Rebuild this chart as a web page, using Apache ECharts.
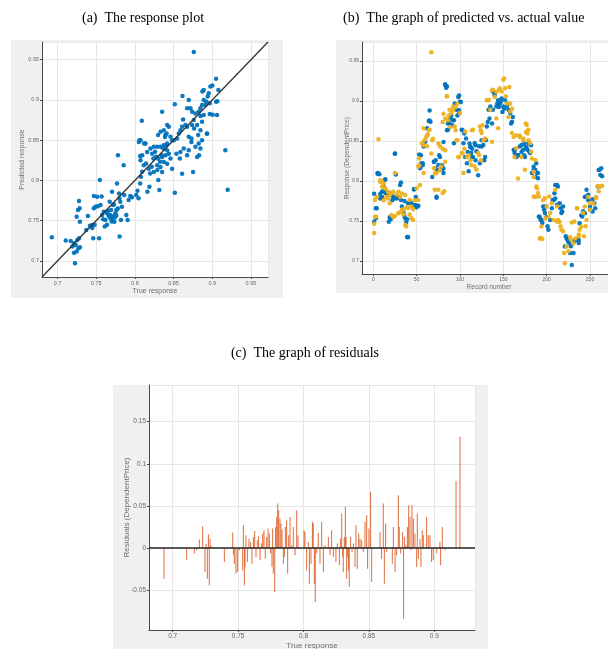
<!DOCTYPE html>
<html>
<head>
<meta charset="utf-8">
<script src="https://cdn.jsdelivr.net/npm/echarts@6/dist/echarts.min.js"></script>
<style>
html, body {margin: 0; padding: 0; background: #fff;}
#chart {width: 608px; height: 649px;}
</style>
</head>
<body>
<div id="chart"></div>
<script>
// (a) response plot: true response vs predicted response
const respTrue = [
  0.6927, 0.7107, 0.7171, 0.7214, 0.7192, 0.7235, 0.7256, 0.7278, 0.729, 0.7214, 0.7248, 0.7226, 0.727,
  0.7248, 0.7265, 0.7278, 0.7286, 0.729, 0.7372, 0.7419, 0.7449, 0.7393, 0.7462, 0.7538, 0.747, 0.7491,
  0.747, 0.7513, 0.7547, 0.7556, 0.7577, 0.759, 0.7598, 0.7611, 0.762, 0.7641, 0.7662, 0.7675, 0.7684,
  0.7692, 0.7705, 0.7718, 0.7726, 0.7735, 0.7748, 0.7761, 0.7769, 0.7782, 0.7795, 0.7803, 0.7812, 0.782,
  0.7833, 0.7855, 0.7863, 0.7889, 0.7906, 0.7919, 0.794, 0.7962, 0.8017, 0.8034, 0.8047, 0.8068, 0.8077,
  0.8094, 0.8068, 0.806, 0.812, 0.8145, 0.8162, 0.8188, 0.8197, 0.8218, 0.8239, 0.8261, 0.8274, 0.8291,
  0.8303, 0.8316, 0.8325, 0.8346, 0.8368, 0.8389, 0.8402, 0.841,
  0.768, 0.771, 0.774, 0.776, 0.770, 0.765, 0.778, 0.773, 0.780, 0.757, 0.752, 0.745, 0.748, 0.764,
  0.8761, 0.9049, 0.9001, 0.8976, 0.889, 0.8872, 0.8954, 0.8941, 0.8924, 0.8967, 0.9049, 0.9079, 0.8911,
  0.8868, 0.889, 0.8847, 0.8825, 0.8847, 0.889, 0.8967, 0.9061, 0.8615, 0.8696, 0.8718, 0.8675, 0.8516,
  0.8739, 0.8782, 0.8761, 0.8868, 0.8804, 0.8765, 0.8847, 0.8933, 0.8817, 0.8868, 0.8825, 0.8804, 0.8829,
  0.8847, 0.8731, 0.8696, 0.8623, 0.8653, 0.861, 0.8675, 0.8739, 0.8589, 0.8567, 0.8546, 0.8503, 0.8632,
  0.8589, 0.8675, 0.8731, 0.8752, 0.861, 0.9169, 0.9199, 0.8516, 0.8352, 0.809, 0.8417, 0.8438, 0.8374,
  0.8331, 0.830, 0.8395, 0.846, 0.8481, 0.8417, 0.8374, 0.8331, 0.8288, 0.8245, 0.8202, 0.8073, 0.8138,
  0.8052, 0.8159, 0.8223, 0.8417, 0.8438, 0.8395, 0.8352, 0.830, 0.846, 0.8374, 0.8417, 0.8288, 0.8331,
  0.8481, 0.8095, 0.8073, 0.8116, 0.818, 0.8245, 0.8352, 0.858, 0.8537, 0.8696, 0.8782, 0.9065, 0.9005, 0.893
];
const respPred = [
  0.7293, 0.7252, 0.7248, 0.7219, 0.7178, 0.7198, 0.726, 0.7281, 0.717, 0.710, 0.7116, 0.697, 0.7157,
  0.755, 0.7632, 0.7744, 0.7653, 0.7488, 0.7384, 0.7438, 0.7446, 0.7558, 0.7281, 0.7281, 0.7653, 0.7674,
  0.7806, 0.7798, 0.8004, 0.7694, 0.757, 0.7517, 0.7612, 0.7426, 0.7508, 0.7591, 0.7558, 0.7736, 0.7529,
  0.7632, 0.786, 0.7694, 0.7558, 0.7488, 0.7591, 0.7632, 0.7963, 0.8314, 0.7839, 0.7302, 0.7736, 0.7508,
  0.7674, 0.819, 0.7818, 0.757, 0.7508, 0.7756, 0.7806, 0.779, 0.7818, 0.7872, 0.7777, 0.7963, 0.8045,
  0.8107, 0.8302, 0.850, 0.8459, 0.8211, 0.786, 0.7921, 0.8087, 0.8169, 0.8273, 0.8355, 0.8293, 0.8128,
  0.8004, 0.788, 0.8231, 0.8314, 0.8397, 0.8541, 0.8438, 0.8583,
  0.757, 0.752, 0.754, 0.756, 0.749, 0.762, 0.765, 0.770, 0.778, 0.780, 0.768, 0.741, 0.745, 0.745,
  0.9596, 0.9263, 0.9179, 0.9167, 0.9125, 0.9104, 0.9083, 0.9042, 0.8979, 0.8958, 0.8979, 0.9125, 0.8938,
  0.8938, 0.900, 0.8896, 0.8854, 0.880, 0.8813, 0.8825, 0.8813, 0.905, 0.900, 0.8896, 0.8896, 0.8946,
  0.8854, 0.8833, 0.875, 0.8729, 0.8688, 0.8646, 0.8625, 0.8583, 0.8563, 0.850, 0.8458, 0.8292, 0.8313,
  0.8396, 0.8521, 0.8542, 0.8758, 0.8688, 0.8667, 0.8667, 0.8688, 0.8625, 0.8583, 0.8521, 0.850, 0.8396,
  0.8354, 0.8313, 0.8479, 0.8104, 0.8083, 0.8375, 0.7883, 0.7846, 0.8854, 0.8742, 0.8688, 0.8667, 0.8625,
  0.8604, 0.8563, 0.8563, 0.8542, 0.850, 0.8458, 0.8438, 0.8417, 0.8417, 0.8417, 0.8396, 0.850, 0.8458,
  0.8479, 0.8354, 0.8333, 0.8375, 0.8333, 0.8313, 0.8292, 0.8271, 0.8271, 0.8229, 0.8208, 0.8188, 0.8167,
  0.8146, 0.8313, 0.825, 0.8188, 0.8146, 0.8104, 0.8104, 0.8271, 0.8333, 0.8375, 0.8417, 0.8985, 0.8815, 0.858
];
const refLine = [0.68, 0.972];

// (b) predicted vs actual by record number
const actualRecord = [
  1, 1, 3, 5, 6, 8, 10, 12, 13, 14, 16, 18, 20, 22, 23, 25, 26, 27, 29, 31, 32, 33, 35, 37, 38, 39, 40, 42, 45, 47, 48, 49,
  52, 54, 55, 57, 58, 60, 62, 64, 65, 66, 68, 70, 72, 73, 75, 77, 79, 81, 83, 85, 86, 88, 90, 92, 93, 94, 96, 98, 99, 100,
  102, 104, 106, 108, 110, 112, 113, 115, 117, 119, 121, 123, 125, 127, 129, 131, 133, 135, 137, 138, 140, 142, 144, 146, 148, 150,
  152, 154, 156, 158, 160, 162, 163, 165, 167, 169, 171, 173, 175, 177, 179, 181, 183, 185, 187, 188, 190, 192, 194, 196, 198, 200,
  202, 204, 206, 208, 210, 212, 213, 215, 217, 219, 221, 223, 225, 227, 229, 231, 233, 235, 237, 238, 240, 242, 244, 246, 248, 250,
  253, 256, 259, 261, 263, 264,
  5, 7, 14, 12, 10, 8, 15, 18, 21, 23, 26, 25, 30, 32, 36, 40, 44, 47, 49, 50, 4, 3, 19, 20, 36, 39, 40,
  53, 55, 57, 65, 70, 72, 74, 73, 79, 81,
  83, 84, 99, 101, 99, 97, 93, 89, 86, 91, 85, 103, 105, 107, 81, 76, 111, 112, 114, 118, 122, 125, 130,
  132, 134, 138, 140, 143, 145, 147, 149, 151, 155, 159, 161, 163, 167, 171, 174, 109, 114, 118, 128,
  174, 176, 178, 180, 182, 185, 187, 189, 190, 191, 193, 195, 197, 199, 201, 207, 209, 210, 212, 216, 218,
  222, 224, 226, 228, 232, 235, 237, 241, 244, 246, 248, 250, 253, 255, 260, 262
];
const actualValue = [
  0.749, 0.784, 0.766, 0.81, 0.809, 0.778, 0.78, 0.788, 0.801, 0.785, 0.785, 0.749, 0.753, 0.776, 0.78, 0.834, 0.808, 0.778, 0.78, 0.795, 0.798, 0.768, 0.76, 0.753, 0.748, 0.73, 0.73, 0.774, 0.77, 0.79, 0.77, 0.78,
  0.769, 0.816, 0.832, 0.822, 0.843, 0.849, 0.866, 0.875, 0.888, 0.874, 0.805, 0.824, 0.826, 0.779, 0.82, 0.83, 0.814, 0.81, 0.92, 0.918, 0.864, 0.872, 0.882, 0.876, 0.847, 0.897, 0.889, 0.905, 0.885, 0.899,
  0.864, 0.847, 0.83, 0.822, 0.812, 0.843, 0.835, 0.83, 0.847, 0.837, 0.807, 0.822, 0.843, 0.845, 0.83, 0.868, 0.889, 0.893, 0.872, 0.912, 0.91, 0.893, 0.901, 0.897, 0.903, 0.893,
  0.901, 0.893, 0.889, 0.885, 0.874, 0.839, 0.835, 0.83, 0.832, 0.843, 0.845, 0.839, 0.83, 0.841, 0.847, 0.835, 0.81, 0.814, 0.805, 0.822, 0.81, 0.755, 0.751, 0.768, 0.76, 0.755,
  0.739, 0.751, 0.766, 0.776, 0.778, 0.795, 0.793, 0.772, 0.76, 0.768, 0.718, 0.728, 0.724, 0.71, 0.695, 0.71, 0.726, 0.727, 0.726, 0.747, 0.757, 0.762, 0.78, 0.789, 0.776, 0.764,
  0.777, 0.766, 0.793, 0.814, 0.816, 0.806,
  0.809, 0.8085, 0.802, 0.793, 0.7865, 0.7836, 0.7865, 0.7844, 0.7824, 0.7782, 0.7795, 0.8342, 0.7795, 0.7761, 0.7749, 0.772, 0.772, 0.7894, 0.7695, 0.767, 0.7658, 0.7533, 0.7545, 0.752, 0.7554, 0.752, 0.7297,
  0.833, 0.8218, 0.8197, 0.8757, 0.8239, 0.8156, 0.8135, 0.7803, 0.8197, 0.8156,
  0.9208, 0.9167, 0.907, 0.8988, 0.8883, 0.882, 0.8758, 0.878, 0.8717, 0.8696, 0.8633, 0.8633, 0.8592, 0.853, 0.8488, 0.832, 0.8467, 0.8425, 0.8404, 0.8446, 0.8433, 0.8508, 0.8508,
  0.8738, 0.878, 0.8892, 0.9071, 0.8967, 0.8925, 0.8988, 0.8863, 0.8904, 0.8967, 0.8717, 0.88, 0.8383, 0.8321, 0.8363, 0.8321, 0.8363, 0.83, 0.8258, 0.8258,
  0.8469, 0.8427, 0.8386, 0.8365, 0.8448, 0.8178, 0.8137, 0.8095, 0.8033, 0.7556, 0.7515, 0.7473, 0.7639, 0.768, 0.7432, 0.7763, 0.7846, 0.795, 0.7701, 0.766, 0.7618,
  0.7307, 0.7266, 0.7224, 0.7183, 0.7245, 0.7266, 0.7224, 0.7556, 0.7597, 0.7805, 0.7826, 0.768, 0.7618, 0.7722, 0.8137, 0.8075
];
const predRecord = [
  1, 2, 4, 6, 8, 10, 12, 13, 15, 17, 19, 21, 23, 25, 27, 29, 31, 33, 35, 37, 38, 40, 42, 44, 46, 48, 50,
  52, 53, 56, 58, 58, 61, 63, 65, 67, 68, 70, 71, 73, 75, 77, 78, 80, 82, 85, 86, 88, 90, 92, 94, 96, 98, 100,
  102, 104, 106, 108, 110, 112, 113, 115, 117, 119, 121, 123, 125, 127, 129, 131, 133, 135, 137, 138, 140, 142, 144, 146, 148, 151,
  152, 154, 156, 158, 160, 162, 163, 165, 167, 169, 171, 173, 175, 177, 179, 181, 183, 185, 187, 188, 190, 192, 194, 196, 198, 200,
  202, 204, 206, 208, 210, 212, 213, 215, 217, 219, 221, 223, 225, 227, 229, 231, 233, 235, 237, 238, 240, 242, 244, 246, 248, 250,
  254, 257, 260, 262, 264,
  8, 10, 12, 14, 17, 19, 23, 29, 33, 37, 42, 2, 1, 3, 21, 25, 29, 32, 35, 39, 44, 46,
  52, 54, 53, 58, 59, 62, 64, 62, 67, 69, 71, 75, 77, 83,
  85, 81, 83, 87, 92, 95, 97, 80, 89, 95, 80, 83, 97, 105, 114, 124, 126, 133, 137, 142, 145, 150, 153,
  157, 158, 160, 165, 169, 173, 176, 178, 99, 103, 122, 124,
  176, 177, 179, 182, 187, 185, 189, 185, 191, 198, 203, 193, 195, 212, 213, 216, 232, 235, 237, 243, 245,
  250, 257, 259, 262, 220, 228
];
const predValue = [
  0.735, 0.755, 0.78, 0.852, 0.799, 0.793, 0.776, 0.791, 0.78, 0.778, 0.772, 0.785, 0.755, 0.81, 0.783, 0.76, 0.78, 0.764, 0.758, 0.745, 0.743, 0.766, 0.758, 0.768, 0.751, 0.776, 0.791,
  0.818, 0.828, 0.847, 0.866, 0.81, 0.855, 0.858, 0.864, 0.961, 0.851, 0.816, 0.789, 0.81, 0.789, 0.843, 0.818, 0.785, 0.787, 0.906, 0.876, 0.889, 0.885, 0.893, 0.868, 0.851, 0.83, 0.885,
  0.835, 0.81, 0.862, 0.83, 0.832, 0.826, 0.82, 0.864, 0.818, 0.814, 0.835, 0.868, 0.86, 0.851, 0.853, 0.901, 0.901, 0.889, 0.849, 0.914, 0.905, 0.878, 0.866, 0.916, 0.912, 0.928,
  0.916, 0.897, 0.88, 0.887, 0.86, 0.855, 0.83, 0.841, 0.803, 0.857, 0.83, 0.853, 0.814, 0.87, 0.864, 0.847, 0.828, 0.805, 0.78, 0.793, 0.785, 0.728, 0.743, 0.776, 0.753, 0.768,
  0.755, 0.76, 0.772, 0.751, 0.789, 0.768, 0.751, 0.749, 0.739, 0.737, 0.697, 0.718, 0.712, 0.73, 0.748, 0.722, 0.728, 0.766, 0.733, 0.739, 0.743, 0.76, 0.768, 0.751, 0.78, 0.772,
  0.772, 0.78, 0.787, 0.793, 0.794,
  0.801, 0.799, 0.7969, 0.7907, 0.7865, 0.7824, 0.7865, 0.7865, 0.7844, 0.7824, 0.7761, 0.7761, 0.7463, 0.7554, 0.7575, 0.7562, 0.7595, 0.7616, 0.7645, 0.767, 0.7533, 0.7645,
  0.7761, 0.7948, 0.8197, 0.8446, 0.8508, 0.8571, 0.8633, 0.8434, 0.8342, 0.8529, 0.8093, 0.8467, 0.8135, 0.8239,
  0.9058, 0.8842, 0.878, 0.882, 0.8883, 0.8925, 0.8967, 0.8738, 0.8675, 0.8633, 0.8404, 0.8383, 0.8508, 0.8404, 0.8633, 0.8633, 0.8696, 0.9017, 0.9133, 0.9112, 0.9142, 0.9267, 0.9058,
  0.9175, 0.8967, 0.8904, 0.8571, 0.855, 0.8508, 0.8613, 0.8592, 0.83, 0.8342, 0.8321, 0.8258,
  0.8718, 0.8614, 0.851, 0.8365, 0.8261, 0.8116, 0.7909, 0.7805, 0.7805, 0.7784, 0.7805, 0.7286, 0.7274, 0.7494, 0.7494, 0.7432, 0.7494, 0.766, 0.7307, 0.7307, 0.7432,
  0.7639, 0.7784, 0.7938, 0.7938, 0.71, 0.7266
];

// (c) residuals vs true response
const residTrue = [
  0.6934, 0.7107, 0.7166, 0.7183, 0.7204, 0.7229, 0.7247, 0.7255, 0.7265, 0.7273, 0.728, 0.7285, 0.7293,
  0.7395, 0.7459, 0.7464, 0.7471, 0.7484, 0.7497, 0.751, 0.7527, 0.7535, 0.754, 0.7548, 0.7553, 0.756,
  0.7571, 0.7583, 0.7596, 0.7606, 0.7617, 0.7627, 0.7637, 0.7647, 0.7657, 0.7668, 0.7678, 0.7688, 0.7698,
  0.7708, 0.7718, 0.7729, 0.7739, 0.7749, 0.7759, 0.7764, 0.7769, 0.778, 0.7787, 0.7795, 0.7803, 0.781,
  0.782, 0.7828, 0.7836, 0.7846, 0.7854, 0.7861, 0.7871, 0.7879, 0.7887, 0.7897, 0.791, 0.7922, 0.7935,
  0.7948, 0.7958, 0.8004, 0.8011, 0.8024, 0.8037, 0.8045, 0.8057, 0.8068, 0.8075, 0.8083, 0.809, 0.8101,
  0.8113, 0.8126, 0.8139, 0.8152, 0.8164, 0.819, 0.8203, 0.8215, 0.8228, 0.8248, 0.8259, 0.8274, 0.8284,
  0.8292, 0.83, 0.8304, 0.8312, 0.832, 0.8325, 0.833, 0.8335, 0.8343, 0.835, 0.836, 0.8371, 0.8381,
  0.8394, 0.8401, 0.8411, 0.8422, 0.8432, 0.8445, 0.8457, 0.847, 0.8483, 0.849, 0.85, 0.8513, 0.8521,
  0.8585, 0.8597, 0.861, 0.8618, 0.8628, 0.8636, 0.8679, 0.8687, 0.87, 0.8712, 0.8725, 0.8732, 0.8743,
  0.8758, 0.8765, 0.8773, 0.8783, 0.8794, 0.8804, 0.8814, 0.8822, 0.8829, 0.884, 0.8852, 0.8865, 0.887,
  0.8878, 0.8891, 0.8898, 0.8908, 0.8916, 0.8941, 0.8954, 0.8967, 0.8979, 0.8992, 0.9018, 0.9043, 0.9048,
  0.9061, 0.9082, 0.9166, 0.9196
];
const residValue = [
  -0.0365, -0.0139, -0.0067, -0.003, 0.0099, 0.0258, -0.0286, 0.005, -0.0365, 0.0163, -0.0444, 0.011, 0.003,
  -0.0167, 0.0183, -0.008, -0.0187, -0.0306, -0.0286, -0.0028, 0.001, -0.0266, 0.027, -0.0444, -0.0226, 0.0151,
  -0.0167, 0.011, 0.0071, -0.0187, 0.0131, 0.0202, -0.0107, 0.0091, 0.0139, -0.0147, 0.0052, 0.0171, 0.021,
  -0.0127, 0.0131, 0.023, 0.0171, -0.0067, -0.0226, 0.023, -0.0306, -0.0524, 0.025, 0.0369, 0.0528, 0.0448,
  0.0349, 0.029, 0.0218, -0.0187, -0.0107, 0.025, 0.0329, -0.0306, 0.0151, 0.0369, 0.0032, 0.025, -0.0087,
  0.0448, 0.0151, 0.021, 0.019, -0.0266, 0.0071, -0.0425, -0.0187, 0.031, 0.029, -0.0425, -0.0643, -0.0067,
  0.0179, -0.0187, 0.031, -0.0286, 0.0032, 0.0131, -0.0087, 0.021, -0.0107, -0.0167, 0.0052, -0.0206, 0.011,
  0.0409, -0.0107, -0.0286, 0.0131, 0.0488, 0.0131, -0.0365, -0.0107, -0.0266, -0.0464, 0.0131, -0.0048, 0.0052,
  -0.0226, 0.027, -0.0246, 0.0171, 0.011, 0.0091, -0.0048, 0.031, 0.0389, -0.0246, 0.023, 0.0667, -0.0405,
  0.019, -0.0127, 0.0528, -0.0425, 0.029, -0.0048, -0.0187, 0.025, -0.0286, -0.0087, 0.0627, 0.025, -0.0067,
  0.019, -0.0841, 0.0131, 0.003, 0.025, 0.0508, 0.0369, -0.0028, 0.0508, 0.0349, 0.0171, -0.0226, 0.0409,
  -0.0127, 0.011, -0.0226, 0.021, 0.0151, 0.0369, 0.0151, 0.0151, -0.0167, -0.0147, -0.0067, 0.0071, -0.0206,
  0.025, -0.0028, 0.0794, 0.1321
];

const zip = (xs, ys) => xs.map((x, i) => [x, ys[i]]);

// only label ticks that fall on the step, hide the padded ends
const stepLabel = (step) => (v) => {
    const k = v / step;
    if (Math.abs(k - Math.round(k)) > 1e-6) return '';
    return String(+v.toFixed(3));
};

const axisBase = (gridIndex, min, max, step, fontSize, name, nameGap, isY) => ({
    type: 'value',
    gridIndex: gridIndex,
    min: min,
    max: max,
    splitNumber: 5,
    name: name,
    nameLocation: 'middle',
    nameGap: nameGap,
    nameMoveOverlap: false,
    nameRotate: isY ? 90 : 0,
    nameTextStyle: {fontSize: fontSize + 1.5, color: '#6e6e6e', fontFamily: 'Liberation Sans'},
    axisLine: {show: true, onZero: false, lineStyle: {color: '#4a4a4a', width: 1}},
    axisTick: {show: true, inside: false, length: 2, lineStyle: {color: '#4a4a4a'}},
    axisLabel: {
        fontSize: fontSize,
        color: '#666',
        margin: 3,
        fontFamily: 'Liberation Sans',
        showMinLabel: false,
        showMaxLabel: false,
        formatter: stepLabel(step)
    },
    splitLine: {show: true, lineStyle: {color: '#e6e6e6', width: 1}}
});

const myChart = echarts.init(document.getElementById('chart'), null, {renderer: 'canvas'});
myChart.setOption({
    animation: false,
    backgroundColor: '#ffffff',
    graphic: {
        elements: [
            {type: 'rect', z: -10, shape: {x: 11, y: 40, width: 272, height: 258}, style: {fill: '#f0f0f0'}},
            {type: 'rect', z: -10, shape: {x: 336, y: 40, width: 280, height: 253}, style: {fill: '#f0f0f0'}},
            {type: 'rect', z: -10, shape: {x: 113, y: 385, width: 375, height: 270}, style: {fill: '#f0f0f0'}},
            {type: 'text', z: 10, x: 143, y: 18, style: {text: '(a)  The response plot', font: '14px "Liberation Serif"', fill: '#000', textAlign: 'center', textVerticalAlign: 'middle'}},
            {type: 'text', z: 10, x: 343, y: 18, style: {text: '(b)  The graph of predicted vs. actual value', font: '14px "Liberation Serif"', fill: '#000', textAlign: 'left', textVerticalAlign: 'middle'}},
            {type: 'text', z: 10, x: 305, y: 353, style: {text: '(c)  The graph of residuals', font: '14px "Liberation Serif"', fill: '#000', textAlign: 'center', textVerticalAlign: 'middle'}}
        ]
    },
    grid: [
        {left: 42, top: 42, width: 226, height: 235, show: true, backgroundColor: '#fff', borderWidth: 0, outerBoundsMode: 'none', containLabel: false},
        {left: 362, top: 42, width: 254, height: 232, show: true, backgroundColor: '#fff', borderWidth: 0, outerBoundsMode: 'none', containLabel: false},
        {left: 149, top: 385, width: 326, height: 245, show: true, backgroundColor: '#fff', borderWidth: 0, outerBoundsMode: 'none', containLabel: false}
    ],
    xAxis: [
        axisBase(0, 0.68, 0.972, 0.05, 5.5, 'True response', 11, false),
        axisBase(1, -13, 280, 50, 5, 'Record number', 10, false),
        axisBase(2, 0.6819, 0.9311, 0.05, 6.5, 'True response', 12, false)
    ],
    yAxis: [
        axisBase(0, 0.68, 0.972, 0.05, 5.5, 'Predicted response', 16, true),
        axisBase(1, 0.6836, 0.9738, 0.05, 5, 'Response (DependentPrice)', 11, true),
        axisBase(2, -0.0975, 0.1936, 0.05, 6.5, 'Residuals (DependentPrice)', 18, true)
    ],
    series: [
        {
            type: 'scatter', xAxisIndex: 0, yAxisIndex: 0,
            symbolSize: 4.5,
            itemStyle: {color: '#0072bd', opacity: 0.95},
            data: zip(respTrue, respPred)
        },
        {
            type: 'line', xAxisIndex: 0, yAxisIndex: 0,
            showSymbol: false, symbol: 'none',
            lineStyle: {color: '#333', width: 1.3},
            data: zip(refLine, refLine),
            z: 5
        },
        {
            type: 'scatter', xAxisIndex: 1, yAxisIndex: 1,
            symbolSize: 4.5,
            itemStyle: {color: '#0072bd', opacity: 0.95},
            data: zip(actualRecord, actualValue)
        },
        {
            type: 'scatter', xAxisIndex: 1, yAxisIndex: 1,
            symbolSize: 4.5,
            itemStyle: {color: '#edb120', opacity: 0.95},
            data: zip(predRecord, predValue)
        },
        {
            type: 'bar', xAxisIndex: 2, yAxisIndex: 2,
            barWidth: 1,
            itemStyle: {color: '#d95319', opacity: 0.85},
            data: zip(residTrue, residValue),
            markLine: {
                silent: true,
                symbol: 'none',
                label: {show: false},
                lineStyle: {color: '#262626', width: 1.5, type: 'solid'},
                data: [{yAxis: 0}]
            }
        }
    ]
});
</script>
</body>
</html>
